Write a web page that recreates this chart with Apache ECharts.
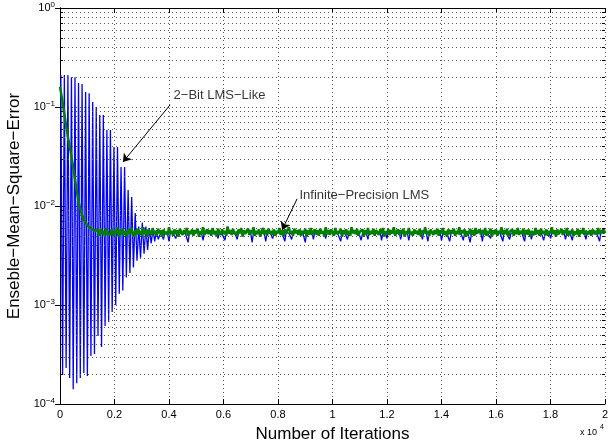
<!DOCTYPE html>
<html><head><meta charset="utf-8">
<script src="https://cdn.jsdelivr.net/npm/echarts@6/dist/echarts.min.js"></script>
<style>html,body{margin:0;padding:0;background:#fff}#c{width:608px;height:444px}</style>
</head><body><div id="c"></div><script>
// x in units of 1e4 iterations
const X_MIN = 0, X_MAX = 2, X_STEP = 0.2;
const Y_MIN = 1e-4, Y_MAX = 1;
const Y_MINOR = [2e-4,3e-4,4e-4,5e-4,6e-4,7e-4,8e-4,9e-4,
  2e-3,3e-3,4e-3,5e-3,6e-3,7e-3,8e-3,9e-3,
  2e-2,3e-2,4e-2,5e-2,6e-2,7e-2,8e-2,9e-2,
  0.2,0.3,0.4,0.5,0.6,0.7,0.8,0.9];

// 2-Bit LMS-Like: oscillating start, sampled every 65 iterations from iteration 30
const BLUE_OSC_START = 30, BLUE_OSC_STEP = 65;
const BLUE_OSC = [
0.21,1.96e-4,0.21,2.31e-4,0.21,1.83e-4,0.20,1.41e-4,0.20,1.62e-4,
0.175,1.83e-4,0.171,2.06e-4,0.142,1.92e-4,0.138,3.05e-4,0.112,3.2e-4,
0.100,4.86e-4,0.083,3.77e-4,0.083,6.14e-4,0.0586,6.75e-4,0.0586,8.5e-4,
0.0394,1.0e-3,0.0394,1.3e-3,0.0248,1.4e-3,0.0248,1.9e-3,0.0145,2.1e-3,
0.0123,2.4e-3,0.0085,2.8e-3,0.0062,3.0e-3,0.0068,3.3e-3,0.0062,3.6e-3,
0.0060,4.2e-3,0.0058,4.4e-3,0.0057,4.6e-3];
// 2-Bit LMS-Like steady state, every 50 iterations from 3700
const BLUE_SS_START = 3700, BLUE_SS_STEP = 50;
const BLUE_SS = [
0.0054,0.0053,0.0046,0.0055,0.0054,0.0052,0.0044,0.0054,0.0055,0.0053,
0.0054,0.0047,0.0053,0.0055,0.0054,0.0054,0.0052,0.0054,0.0053,0.0055,
0.0043,0.0054,0.0053,0.0055,0.0052,0.0054,0.0054,0.0053,0.0055,0.0054,
0.0052,0.0045,0.0055,0.0054,0.0053,0.0054,0.0053,0.0053,0.0055,0.0052,
0.0054,0.0053,0.0047,0.0055,0.0054,0.0052,0.0053,0.0045,0.0054,0.0055,
0.0053,0.0053,0.0054,0.0052,0.0055,0.0054,0.0046,0.0053,0.0054,0.0055,
0.0052,0.0054,0.0054,0.0053,0.0055,0.0054,0.0053,0.0043,0.0054,0.0052,
0.0055,0.0054,0.0053,0.0053,0.0054,0.0055,0.0052,0.0044,0.0054,0.0053,
0.0055,0.0054,0.0047,0.0052,0.0054,0.0053,0.0054,0.0055,0.0054,0.0053,
0.0052,0.0044,0.0054,0.0055,0.0053,0.0054,0.0046,0.0052,0.0055,0.0054,
0.0053,0.0054,0.0054,0.0052,0.0055,0.0053,0.0043,0.0054,0.0055,0.0052,
0.0054,0.0053,0.0046,0.0055,0.0052,0.0054,0.0053,0.0054,0.0055,0.0054,
0.0053,0.0047,0.0054,0.0052,0.0055,0.0054,0.0053,0.0053,0.0054,0.0055,
0.0052,0.0054,0.0044,0.0053,0.0055,0.0054,0.0052,0.0046,0.0054,0.0053,
0.0055,0.0053,0.0054,0.0053,0.0052,0.0055,0.0054,0.0045,0.0053,0.0054,
0.0055,0.0052,0.0046,0.0054,0.0053,0.0055,0.0054,0.0053,0.0052,0.0054,
0.0053,0.0055,0.0045,0.0054,0.0052,0.0053,0.0047,0.0055,0.0054,0.0053,
0.0054,0.0054,0.0055,0.0053,0.0052,0.0054,0.0046,0.0053,0.0055,0.0054,
0.0052,0.0053,0.0045,0.0054,0.0055,0.0053,0.0054,0.0053,0.0055,0.0052,
0.0054,0.0053,0.0046,0.0055,0.0054,0.0052,0.0044,0.0054,0.0053,0.0055,
0.0054,0.0053,0.0052,0.0055,0.0053,0.0054,0.0045,0.0053,0.0054,0.0055,
0.0052,0.0054,0.0044,0.0053,0.0055,0.0054,0.0053,0.0054,0.0054,0.0052,
0.0055,0.0053,0.0045,0.0054,0.0052,0.0055,0.0054,0.0043,0.0053,0.0054,
0.0055,0.0052,0.0054,0.0054,0.0053,0.0054,0.0044,0.0055,0.0052,0.0054,
0.0053,0.0055,0.0047,0.0054,0.0052,0.0053,0.0054,0.0054,0.0055,0.0053,
0.0054,0.0044,0.0055,0.0053,0.0052,0.0054,0.0046,0.0053,0.0055,0.0054,
0.0052,0.0053,0.0054,0.0054,0.0055,0.0053,0.0054,0.0044,0.0055,0.0052,
0.0054,0.0053,0.0046,0.0055,0.0054,0.0052,0.0053,0.0054,0.0053,0.0055,
0.0054,0.0045,0.0052,0.0055,0.0053,0.0054,0.0047,0.0053,0.0054,0.0055,
0.0052,0.0054,0.0053,0.0053,0.0055,0.0054,0.0053,0.0046,0.0054,0.0052,
0.0055,0.0053,0.0045,0.0054,0.0052,0.0055,0.0054,0.0054,0.0053,0.0054,
0.0055,0.0052,0.0046,0.0054,0.0053,0.0054,0.0053,0.0055,0.0052,0.0054,
0.0053,0.0055,0.0044,0.0054,0.0052,0.0053,0.0054];

// Infinite-Precision LMS: transient every 100 iterations from 0, then every 50 from 1400
const GREEN_TR_STEP = 100;
const GREEN_TR = [0.16,0.11,0.072,0.048,0.034,0.023,0.015,0.0105,0.0082,0.0071,0.0064,0.0060,0.0058,0.0056];
const GREEN_SS_START = 1400, GREEN_SS_STEP = 50;
const GREEN_SS = [
0.0057,0.0050,0.0059,0.0052,0.0056,0.0049,0.0060,0.0053,0.0055,0.0051,
0.0058,0.0050,0.0056,0.0053,0.0061,0.0049,0.0057,0.0052,0.0059,0.0051,
0.0055,0.0050,0.0058,0.0052,0.0060,0.0054,0.0049,0.0057,0.0051,0.0059,
0.0053,0.0056,0.0050,0.0061,0.0052,0.0057,0.0049,0.0058,0.0054,0.0051,
0.0060,0.0052,0.0056,0.0050,0.0059,0.0053,0.0057,0.0049,0.0058,0.0052,
0.0055,0.0051,0.0061,0.0053,0.0056,0.0050,0.0058,0.0052,0.0057,0.0049,
0.0059,0.0054,0.0051,0.0057,0.0053,0.0060,0.0050,0.0056,0.0052,0.0058,
0.0050,0.0057,0.0053,0.0059,0.0049,0.0056,0.0052,0.0061,0.0051,0.0055,
0.0058,0.0052,0.0057,0.0050,0.0060,0.0053,0.0056,0.0049,0.0059,0.0054,
0.0051,0.0058,0.0052,0.0056,0.0050,0.0062,0.0053,0.0057,0.0051,0.0059,
0.0052,0.0055,0.0050,0.0058,0.0053,0.0060,0.0049,0.0057,0.0052,0.0056,
0.0059,0.0051,0.0057,0.0053,0.0061,0.0050,0.0056,0.0052,0.0058,0.0049,
0.0055,0.0060,0.0052,0.0057,0.0050,0.0059,0.0053,0.0056,0.0051,0.0058,
0.0050,0.0056,0.0053,0.0060,0.0051,0.0057,0.0049,0.0058,0.0054,0.0052,
0.0061,0.0052,0.0056,0.0050,0.0059,0.0053,0.0057,0.0051,0.0058,0.0050,
0.0056,0.0053,0.0059,0.0049,0.0057,0.0052,0.0060,0.0051,0.0055,0.0058,
0.0052,0.0057,0.0050,0.0059,0.0053,0.0056,0.0049,0.0061,0.0052,0.0057,
0.0051,0.0058,0.0054,0.0050,0.0060,0.0052,0.0056,0.0053,0.0059,0.0049,
0.0057,0.0052,0.0058,0.0051,0.0056,0.0050,0.0061,0.0053,0.0057,0.0052,
0.0059,0.0050,0.0055,0.0053,0.0058,0.0049,0.0057,0.0052,0.0060,0.0051,
0.0056,0.0052,0.0059,0.0050,0.0057,0.0054,0.0051,0.0058,0.0053,0.0060,
0.0049,0.0056,0.0052,0.0058,0.0051,0.0057,0.0053,0.0061,0.0050,0.0055,
0.0058,0.0051,0.0057,0.0053,0.0059,0.0049,0.0056,0.0052,0.0060,0.0052,
0.0055,0.0050,0.0058,0.0053,0.0056,0.0051,0.0059,0.0049,0.0057,0.0053,
0.0061,0.0052,0.0056,0.0050,0.0058,0.0054,0.0051,0.0057,0.0052,0.0059,
0.0050,0.0057,0.0053,0.0060,0.0051,0.0056,0.0049,0.0058,0.0052,0.0057,
0.0053,0.0059,0.0050,0.0056,0.0052,0.0061,0.0051,0.0057,0.0053,0.0058,
0.0049,0.0056,0.0052,0.0059,0.0051,0.0057,0.0050,0.0060,0.0053,0.0055,
0.0058,0.0051,0.0057,0.0052,0.0060,0.0050,0.0056,0.0053,0.0059,0.0049,
0.0057,0.0052,0.0058,0.0050,0.0056,0.0053,0.0061,0.0051,0.0057,0.0052,
0.0059,0.0049,0.0055,0.0053,0.0058,0.0050,0.0057,0.0052,0.0060,0.0051,
0.0056,0.0053,0.0059,0.0050,0.0057,0.0052,0.0058,0.0049,0.0056,0.0054,
0.0051,0.0060,0.0052,0.0057,0.0050,0.0059,0.0053,0.0056,0.0051,0.0058,
0.0050,0.0056,0.0053,0.0061,0.0052,0.0057,0.0049,0.0058,0.0052,0.0055,
0.0059,0.0051,0.0057,0.0053,0.0060,0.0050,0.0056,0.0052,0.0058,0.0050,
0.0055,0.0052,0.0059,0.0049,0.0057,0.0053,0.0060,0.0051,0.0056,0.0058,
0.0052,0.0057,0.0050,0.0058,0.0053,0.0056,0.0051,0.0060,0.0052,0.0057,
0.0054,0.0059,0.0053];

// annotations [x (1e4 it), y, text] and arrows
const LABELS = [[0.415, 0.132, '2\u2212Bit LMS\u2212Like'], [0.877, 0.0129, 'Infinite\u2212Precision LMS']];
const ARROWS = [[[0.404, 0.105], [0.231, 0.0278]], [[0.870, 0.0118], [0.815, 0.00573]]];

const FONT = 'Liberation Sans, Arial, Helvetica, sans-serif';
const blueData = BLUE_OSC.map((v, k) => [(BLUE_OSC_START + k * BLUE_OSC_STEP) / 1e4, v])
  .concat(BLUE_SS.map((v, i) => [(BLUE_SS_START + i * BLUE_SS_STEP) / 1e4, v]));
const greenData = GREEN_TR.map((v, i) => [i * GREEN_TR_STEP / 1e4, v])
  .concat(GREEN_SS.map((v, i) => [(GREEN_SS_START + i * GREEN_SS_STEP) / 1e4, v]));

const dotted = {color: '#555', width: 1, type: [1, 3]};
const minorGrid = Y_MINOR.map(v => [{coord: [X_MIN, v]}, {coord: [X_MAX, v]}]);
const minorTicks = [];
Y_MINOR.forEach(v => {
  minorTicks.push([{coord: [X_MIN, v]}, {coord: [X_MIN + 0.011, v]}]);
  minorTicks.push([{coord: [X_MAX - 0.011, v]}, {coord: [X_MAX, v]}]);
});

const chart = echarts.init(document.getElementById('c'), null, {renderer: 'canvas'});
chart.setOption({
  animation: false,
  textStyle: {fontFamily: FONT},
  grid: {left: 60, right: 3, top: 8, bottom: 40, containLabel: false, outerBoundsMode: 'none'},
  xAxis: [{
    type: 'value', min: X_MIN, max: X_MAX, interval: X_STEP,
    name: 'Number of Iterations', nameLocation: 'middle', nameGap: 22,
    nameTextStyle: {fontSize: 17, color: '#000', fontFamily: FONT},
    axisLine: {lineStyle: {color: '#000', width: 1}},
    axisTick: {inside: true, length: 5, lineStyle: {color: '#000'}},
    axisLabel: {fontSize: 11, color: '#000', margin: 5, fontFamily: FONT,
      formatter: v => String(+v.toFixed(1))},
    splitLine: {show: true, lineStyle: dotted}
  }, {
    type: 'value', position: 'top', min: X_MIN, max: X_MAX, interval: X_STEP,
    axisLine: {show: true, lineStyle: {color: '#000', width: 1}},
    axisTick: {show: true, inside: true, length: 5, lineStyle: {color: '#000'}},
    axisLabel: {show: false}, splitLine: {show: false}
  }],
  yAxis: [{
    type: 'log', logBase: 10, min: Y_MIN, max: Y_MAX, interval: 1,
    name: 'Enseble\u2212Mean\u2212Square\u2212Error', nameLocation: 'middle', nameGap: 33,
    nameTextStyle: {fontSize: 17, color: '#000', fontFamily: FONT},
    axisLine: {show: true, lineStyle: {color: '#000', width: 1}},
    axisTick: {show: true, inside: true, length: 5, lineStyle: {color: '#000'}},
    axisLabel: {color: '#000', margin: 5, fontFamily: FONT,
      formatter: v => { const e = Math.round(Math.log10(v)); return '{b|10}{s|' + (e < 0 ? '\u2212' + (-e) : e) + '}'; },
      rich: {b: {fontSize: 11, color: '#000', fontFamily: FONT}, s: {fontSize: 8, color: '#000', verticalAlign: 'top', padding: [0, 0, 6, 0], fontFamily: FONT}}},
    splitLine: {show: true, lineStyle: dotted}
  }, {
    type: 'log', logBase: 10, min: Y_MIN, max: Y_MAX, interval: 1, position: 'right',
    axisLine: {show: true, lineStyle: {color: '#000', width: 1}},
    axisTick: {show: true, inside: true, length: 5, lineStyle: {color: '#000'}},
    axisLabel: {show: false}, splitLine: {show: false}
  }],
  series: [{
    name: 'minorGrid', type: 'line', data: [], z: 1,
    markLine: {silent: true, symbol: ['none', 'none'], label: {show: false},
      lineStyle: dotted, data: minorGrid}
  }, {
    name: '2-Bit LMS-Like', type: 'line', data: blueData, showSymbol: false,
    lineStyle: {color: '#0000ff', width: 1.3}, z: 2
  }, {
    name: 'Infinite-Precision LMS', type: 'line', data: greenData, showSymbol: false,
    lineStyle: {color: '#008000', width: 2.5}, z: 3
  }, {
    name: 'annotations', type: 'scatter', data: LABELS, symbolSize: 1,
    itemStyle: {color: 'rgba(0,0,0,0)'}, z: 5,
    label: {show: true, position: 'right', distance: 0, fontSize: 13, color: '#000', fontFamily: FONT,
      formatter: p => p.data[2]},
    markLine: {silent: true, symbol: ['none', 'arrow'], symbolSize: 8, label: {show: false},
      lineStyle: {color: '#000', width: 1, type: 'solid'},
      data: ARROWS.map(a => [{coord: a[0]}, {coord: a[1]}])}
  }, {
    name: 'minorTicks', type: 'line', data: [], z: 4,
    markLine: {silent: true, symbol: ['none', 'none'], label: {show: false},
      lineStyle: {color: '#000', width: 1, type: 'solid'}, data: minorTicks}
  }],
  graphic: [
    {type: 'text', left: 580, top: 428, style: {text: 'x 10', fontSize: 9, fill: '#000', fontFamily: FONT}},
    {type: 'text', left: 600, top: 424, style: {text: '4', fontSize: 7, fill: '#000', fontFamily: FONT}}
  ]
});
</script></body></html>
